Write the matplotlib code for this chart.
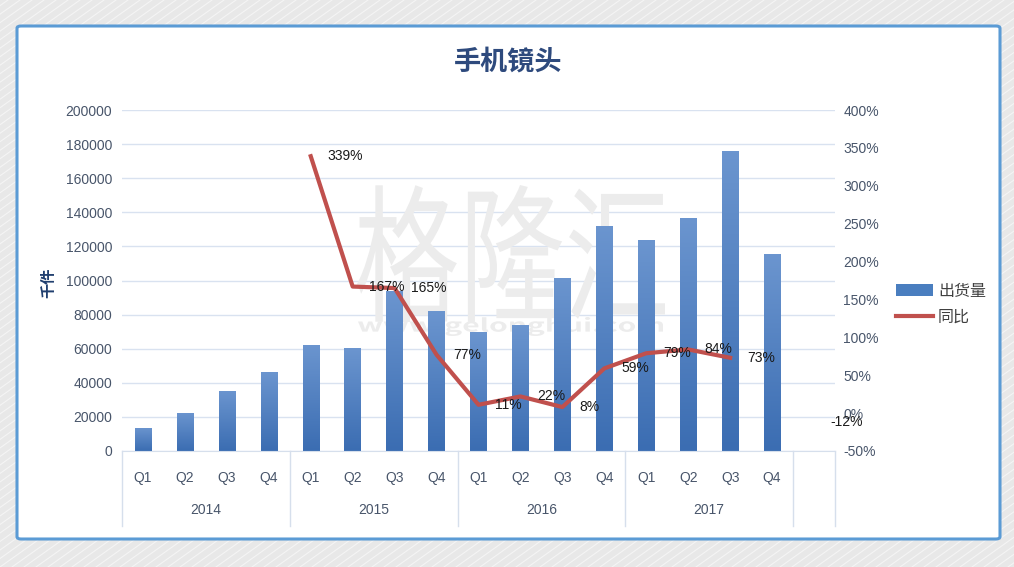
import numpy as np
import matplotlib
matplotlib.use('Agg')
import matplotlib.pyplot as plt
import matplotlib.transforms as mtransforms
from matplotlib.patches import FancyBboxPatch, Patch, PathPatch
from matplotlib.lines import Line2D
from matplotlib.textpath import TextPath
from matplotlib.font_manager import FontProperties

plt.rcParams['font.family'] = ['Liberation Sans', 'Noto Sans CJK SC', 'DejaVu Sans']

# 数据
years = ['2014', '2015', '2016', '2017']
quarters = ['Q1', 'Q2', 'Q3', 'Q4',
            'Q1', 'Q2', 'Q3', 'Q4',
            'Q1', 'Q2', 'Q3', 'Q4',
            'Q1', 'Q2', 'Q3', 'Q4']
shipments = [13500, 22300, 35200, 46300,
             62200, 60400, 93800, 82100,
             69800, 73900, 101500, 132000,
             123800, 136700, 176000, 115500]
# 同比(%)，最后一个空位上有 -12%
yoy = [np.nan, np.nan, np.nan, np.nan,
       339, 167, 165, 77,
       11, 22, 8, 59,
       79, 84, 73, np.nan,
       -12]

W, H = 1014, 567
fig = plt.figure(figsize=(W / 100, H / 100), dpi=100)
fig.patch.set_facecolor('#e8e8e8')

# 背景斜纹
for k in np.arange(-900, 1100, 12):
    fig.add_artist(Line2D([k / W, (k + 800) / W], [0, 1],
                          color='white', lw=0.8, alpha=0.55, zorder=-10))

# 白色面板
panel = FancyBboxPatch((17 / W, 1 - 539 / H), (1000 - 17) / W, (539 - 26) / H,
                       boxstyle='round,pad=0,rounding_size=0.004',
                       transform=fig.transFigure, facecolor='white',
                       edgecolor='#5b9bd5', linewidth=2.2, zorder=-5)
fig.add_artist(panel)

ax = fig.add_axes([122 / W, 1 - 451 / H, (835 - 122) / W, (451 - 110) / H])
ax.set_facecolor('none')
ax2 = ax.twinx()

n_slots = len(yoy)
x = np.arange(len(shipments))
bw = 0.39

bars = ax.bar(x, shipments, width=bw, color='#4a7ebf', zorder=2)
grad = np.linspace(0, 1, 100).reshape(-1, 1)
cmap = matplotlib.colors.LinearSegmentedColormap.from_list('g', ['#3b6db2', '#6b95cf'])
for b in bars:
    im = ax.imshow(grad, cmap=cmap, origin='lower', aspect='auto',
                   extent=[b.get_x(), b.get_x() + b.get_width(), 0, b.get_height()],
                   zorder=2.1)
    im.set_clip_path(b)

ax.set_xlim(-0.5, n_slots - 0.5)
ax.set_ylim(0, 200000)
ax.set_yticks(np.arange(0, 200001, 20000))
ax.yaxis.grid(True, color='#d9e2f0', linewidth=1)
ax.set_axisbelow(True)
ax.tick_params(axis='y', length=0, pad=7, labelsize=10, labelcolor='#48556a')
ax.tick_params(axis='x', length=0, labelbottom=False)
for s in ['top', 'left', 'right']:
    ax.spines[s].set_visible(False)
ax.spines['bottom'].set_color('#d6dfec')

# 水印
def watermark(text, x0, x1, y0, y1, weight='normal'):
    tp = TextPath((0, 0), text, size=100,
                  prop=FontProperties(family='Noto Sans CJK SC', weight=weight))
    ext = tp.get_extents()
    tr = (mtransforms.Affine2D()
          .translate(-ext.x0, -ext.y0)
          .scale((x1 - x0) / ext.width, (y1 - y0) / ext.height)
          .translate(x0, H - y1)
          .scale(1 / W, 1 / H)) + fig.transFigure
    ax.add_artist(PathPatch(tp, transform=tr, facecolor='#ececec',
                            edgecolor='none', zorder=1))

watermark('格隆汇', 357, 665, 185, 322)
watermark('www.gelonghui.com', 358, 663, 317, 336, weight='bold')

# 同比折线
ax2.plot(np.arange(n_slots), yoy, color='#c0504d', linewidth=3,
         solid_joinstyle='round', zorder=3)
for i, v in enumerate(yoy):
    if not np.isnan(v):
        ax2.annotate(f'{v:.0f}%', (i, v), xytext=(12, 0), textcoords='offset points',
                     ha='left', va='center', fontsize=10, color='#1a1a1a')
ax2.set_ylim(-50, 400)
ax2.set_yticks(np.arange(-50, 401, 50))
ax2.set_yticklabels([f'{t}%' for t in range(-50, 401, 50)])
ax2.tick_params(axis='y', length=0, pad=6, labelsize=10, labelcolor='#48556a')
for s in ['top', 'left', 'right', 'bottom']:
    ax2.spines[s].set_visible(False)

# 分类坐标轴（两级）
blend = mtransforms.blended_transform_factory(ax.transData, ax.transAxes)
for i, q in enumerate(quarters):
    ax.annotate(q, (i, 0), xycoords=blend, xytext=(0, -27), textcoords='offset pixels',
                ha='center', va='center', fontsize=10, color='#48556a')
for j, yr in enumerate(years):
    ax.annotate(yr, (j * 4 + 1.5, 0), xycoords=blend, xytext=(0, -59),
                textcoords='offset pixels', ha='center', va='center',
                fontsize=10, color='#48556a')
for xb in [-0.5, 3.5, 7.5, 11.5, 15.5, 16.5]:
    ax.plot([xb, xb], [0, -75 / 341], transform=blend, color='#d6dfec',
            linewidth=1, clip_on=False)

fig.text(508 / W, 1 - 62 / H, '手机镜头', ha='center', va='center', fontsize=19.5,
         fontweight='bold', color='#2e4a7d', family=['Noto Sans CJK SC'])
fig.text(48 / W, 1 - 283 / H, '千件', ha='center', va='center', rotation=90,
         fontsize=11, fontweight='bold', color='#1f3e6e', family=['Noto Sans CJK SC'])

handles = [Patch(facecolor='#4a7ebf'), Line2D([], [], color='#c0504d', linewidth=3)]
leg = fig.legend(handles, ['出货量', '同比'], loc='center left',
                 bbox_to_anchor=(882 / W, 1 - 304 / H), frameon=False,
                 handlelength=2.3, handletextpad=0.3, labelspacing=0.55,
                 prop=FontProperties(family='Noto Sans CJK SC', size=11.5))
for t in leg.get_texts():
    t.set_color('#404040')

fig.savefig('out.png', dpi=100, facecolor=fig.get_facecolor())
